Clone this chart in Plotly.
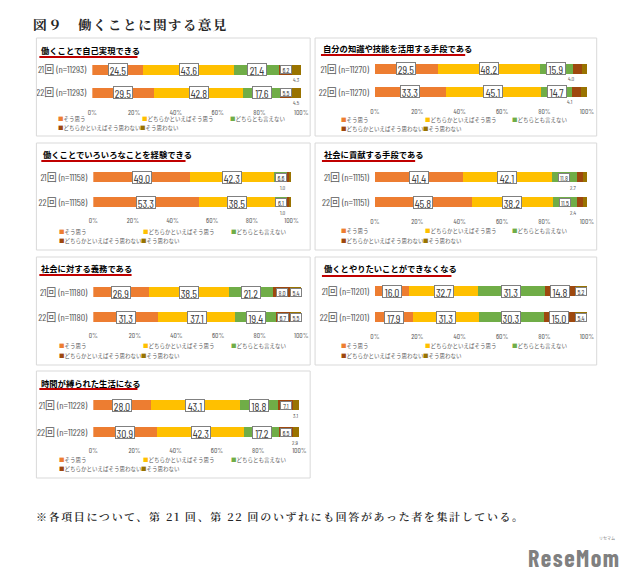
import plotly.graph_objects as go

# ---------------- data ----------------
titles = [
    "働くことで自己実現できる",
    "自分の知識や技能を活用する手段である",
    "働くことでいろいろなことを経験できる",
    "社会に貢献する手段である",
    "社会に対する義務である",
    "働くとやりたいことができなくなる",
    "時間が縛られた生活になる",
]
sample_n = [11293, 11270, 11158, 11151, 11180, 11201, 11228]
waves = ["21回", "22回"]
answers = ["そう思う", "どちらかといえばそう思う", "どちらとも言えない",
           "どちらかといえばそう思わない", "そう思わない"]
vals_21 = [
    [24.5, 43.6, 21.4, 6.2, 4.3],
    [29.5, 48.2, 15.9, 4.0, 2.4],
    [49.0, 42.3, 6.6, 1.0, 1.1],
    [41.4, 42.1, 11.8, 2.7, 2.0],
    [26.9, 38.5, 21.2, 8.0, 5.4],
    [16.0, 32.7, 31.3, 14.8, 5.2],
    [28.0, 43.1, 18.8, 7.1, 3.1],
]
vals_22 = [
    [29.5, 42.8, 17.6, 5.5, 4.5],
    [33.3, 45.1, 14.7, 4.1, 2.7],
    [53.3, 38.5, 6.1, 1.0, 1.1],
    [45.8, 38.2, 11.5, 2.4, 2.2],
    [31.3, 37.1, 19.4, 6.7, 5.5],
    [17.9, 31.3, 30.3, 15.0, 5.4],
    [30.9, 42.3, 17.2, 6.5, 2.9],
]
x_ticks = [0, 20, 40, 60, 80, 100]
x_tick_labels = ["0%", "20%", "40%", "60%", "80%", "100%"]
main_title = "図９　働くことに関する意見"
footnote = "※各項目について、第 21 回、第 22 回のいずれにも回答があった者を集計している。"

# ---------------- styles / layout ----------------
W, H = 640, 578
colors = ["#ED7D31", "#FFC000", "#70AD47", "#9E480E", "#997300"]
NARROW = "Barlow Condensed, Fira Sans Condensed, Liberation Sans Narrow, Roboto, Noto Sans CJK JP, sans-serif"
CJK = "Noto Sans CJK JP, sans-serif"
SERIF = "Noto Serif JP, BIZ UDPMincho, Noto Sans CJK JP, serif"
LOGO = "Barlow Condensed, Fira Sans Condensed, Roboto, sans-serif"
GRAY = "#595959"

panels = [
    dict(box=(32, 38, 311, 136), x0=89, x1=302, b1=69.5, b2=92, ty=113, l1=119, l2=128, tx=35, tty=50, uy=57, u0=35, u1=135),
    dict(box=(316, 38, 603, 136), x0=377, x1=593, b1=69, b2=92, ty=112, l1=120, l2=129, tx=322, tty=48, uy=55, u0=322, u1=469),
    dict(box=(32, 143, 311, 250), x0=90, x1=292, b1=177, b2=202, ty=221, l1=232, l2=241, tx=37, tty=154, uy=161, u0=37, u1=184),
    dict(box=(316, 143, 603, 250), x0=377, x1=593, b1=177, b2=202, ty=222, l1=231, l2=241, tx=323, tty=154, uy=161, u0=323, u1=418),
    dict(box=(32, 257, 311, 365), x0=90, x1=302, b1=292, b2=317, ty=336, l1=346, l2=356, tx=35, tty=268, uy=275, u0=35, u1=129),
    dict(box=(316, 257, 603, 365), x0=377, x1=593, b1=291, b2=317, ty=337, l1=346, l2=356, tx=323, tty=268, uy=276, u0=323, u1=455),
    dict(box=(32, 371, 311, 478), x0=90, x1=300, b1=405, b2=432, ty=451, l1=460, l2=469, tx=35, tty=383, uy=389, u0=35, u1=135),
]

def px(x):
    return x / W

def py(y):
    return 1 - y / H

fig = go.Figure()
annotations = []
shapes = []
layout_axes = {}

for i, P in enumerate(panels):
    sfx = "" if i == 0 else str(i + 1)
    cats = [f"{w} (n={sample_n[i]})" for w in waves]
    rows = [vals_21[i], vals_22[i]]
    u = P["b2"] - P["b1"]
    top_px = P["b1"] - 12
    bot_px = P["ty"] - 7
    v_top = -(P["b1"] - top_px) / u
    v_bot = 1 + (bot_px - P["b2"]) / u
    bw = 10.0 / u

    for k in range(5):
        fig.add_trace(go.Bar(
            orientation="h", x=[rows[0][k], rows[1][k]], y=cats,
            marker=dict(color=colors[k], line=dict(width=0)),
            width=bw, xaxis="x" + sfx, yaxis="y" + sfx,
            showlegend=False, hoverinfo="skip", name=answers[k]))

    layout_axes["xaxis" + sfx] = dict(
        domain=[px(P["x0"]), px(P["x1"])], anchor="y" + sfx, range=[0, 100],
        tickvals=x_ticks, ticktext=x_tick_labels, showgrid=False, zeroline=False,
        showline=False, ticks="", tickfont=dict(family=NARROW, size=7.5, color=GRAY),
        fixedrange=True)
    layout_axes["yaxis" + sfx] = dict(
        domain=[py(bot_px), py(top_px)], anchor="x" + sfx, type="category",
        categoryorder="array", categoryarray=cats, range=[v_bot, v_top],
        showgrid=False, zeroline=False, showline=False, ticks="",
        ticklabelstandoff=5,
        tickfont=dict(family=NARROW, size=10, color=GRAY), fixedrange=True)

    for r in range(2):
        row = rows[r]
        start = 0.0
        small_tail = row[3] < 5 and row[4] < 5
        for k in range(5):
            v = row[k]
            mid = start + v / 2
            start += v
            common = dict(xref="x" + sfx, yref="y" + sfx, y=cats[r], showarrow=False,
                          xanchor="center", yanchor="middle")
            if v >= 12:
                annotations.append(dict(common, x=mid, text=f"{v:.1f}",
                    font=dict(family=NARROW, size=11.5, color="#404040"),
                    bgcolor="white", bordercolor="#808080", borderwidth=1, borderpad=0,
                    width=18, height=11))
            elif v >= 5:
                annotations.append(dict(common, x=mid, text=f"{v:.1f}",
                    font=dict(family=NARROW, size=7, color="#404040"),
                    bgcolor="white", bordercolor="#808080", borderwidth=1, borderpad=0,
                    width=10, height=7))
            else:
                shift = 0
                if small_tail:
                    shift = -3 if k == 3 else 1.8
                annotations.append(dict(common, x=mid + shift, text=f"{v:.1f}",
                    yshift=-10, font=dict(family=NARROW, size=6, color=GRAY)))

    l, t, rr, b = P["box"]
    shapes.append(dict(type="rect", xref="paper", yref="paper",
                       x0=px(l), x1=px(rr), y0=py(b), y1=py(t),
                       line=dict(color="#D9D9D9", width=1), fillcolor="rgba(0,0,0,0)"))
    annotations.append(dict(xref="paper", yref="paper", x=px(P["tx"]), y=py(P["tty"]),
                            xanchor="left", yanchor="middle", showarrow=False,
                            text=f"<b>{titles[i]}</b>",
                            font=dict(family=CJK, size=8.3, color="#000000")))
    shapes.append(dict(type="line", xref="paper", yref="paper",
                       x0=px(P["u0"]), x1=px(P["u1"]), y0=py(P["uy"]), y1=py(P["uy"]),
                       line=dict(color="#C00000", width=2)))
    leg_pos = [(P["x0"] - 37, P["l1"]), (P["x0"] + 49, P["l1"]), (P["x0"] + 138, P["l1"]),
               (P["x0"] - 37, P["l2"]), (P["x0"] + 47, P["l2"])]
    for k in range(5):
        lx, ly = leg_pos[k]
        annotations.append(dict(xref="paper", yref="paper", x=px(lx), y=py(ly),
                                xanchor="left", yanchor="middle", showarrow=False,
                                text=f'<span style="color:{colors[k]}">■</span>{answers[k]}',
                                font=dict(family=CJK, size=5.5, color=GRAY)))

annotations.append(dict(xref="paper", yref="paper", x=px(26), y=py(24), xanchor="left",
                        yanchor="middle", showarrow=False,
                        text=f'<span style="letter-spacing:1.5px">{main_title}</span>',
                        font=dict(family=SERIF, size=13.5, color="#262626", weight=700)))
annotations.append(dict(xref="paper", yref="paper", x=px(30), y=py(516), xanchor="left",
                        yanchor="middle", showarrow=False,
                        text=f'<span style="letter-spacing:1.6px">{footnote}</span>',
                        font=dict(family=SERIF, size=11, color="#262626", weight=600)))
annotations.append(dict(xref="paper", yref="paper", x=px(531), y=py(557), xanchor="left",
                        yanchor="middle", showarrow=False,
                        text='<span style="letter-spacing:1.5px">ReseMom</span>',
                        font=dict(family=LOGO, size=24, color="#808080", weight=700)))
annotations.append(dict(xref="paper", yref="paper", x=px(614), y=py(538), xanchor="center",
                        yanchor="middle", showarrow=False, text="リセマム",
                        font=dict(family=CJK, size=4, color="#808080")))

fig.update_layout(
    width=W, height=H, autosize=False, margin=dict(l=0, r=0, t=0, b=0),
    paper_bgcolor="white", plot_bgcolor="white", barmode="stack", bargap=0,
    showlegend=False, annotations=annotations, shapes=shapes, **layout_axes)

fig.write_html("out.html", config={"displayModeBar": False})
